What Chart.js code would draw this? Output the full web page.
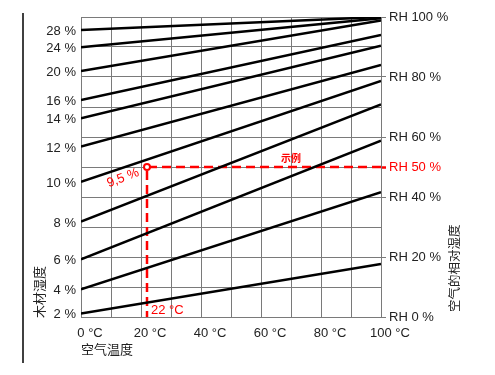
<!DOCTYPE html>
<html>
<head>
<meta charset="utf-8">
<style>
	html, body { margin: 0; padding: 0; background: #fff; }
	#chart-wrap { position: relative; width: 495px; height: 375px; }
</style>
</head>
<body>
<div id="chart-wrap"><canvas id="chart-wood-moisture" width="495" height="375"></canvas></div>
<script src="https://cdn.jsdelivr.net/npm/chart.js@4/dist/chart.umd.min.js"></script>
<script>
// Wood moisture isolines: relative humidity at 0 °C and at 100 °C
const MC_LABELS = ["28 %", "24 %", "20 %", "16 %", "14 %", "12 %", "10 %", "8 %", "6 %", "4 %", "2 %"];
const RH_AT_0C = [95.7, 89.9, 82, 72.3, 66.2, 56.8, 45.1, 31.8, 19.2, 9.2, 1.2];
const RH_AT_100C = [100, 99.6, 98.8, 94, 90.4, 84, 78.7, 70.9, 58.8, 41.6, 17.7];
const TEMP_MIN = 0;
const TEMP_MAX = 100;
const TEMP_LABEL_TICKS = [0, 20, 40, 60, 80, 100];
const RH_LABEL_TICKS = [0, 20, 40, 50, 60, 80, 100];

// Example reading
const EXAMPLE_TEMP = 22;
const EXAMPLE_RH = 50;
const EXAMPLE_MC = "9,5 %";

const COLORS = {
	TEXT: "#222",
	GRID: "#7a7a7a",
	LINE: "#000",
	RED: "#ff0000",
};
const FONT_FAMILY = '"Liberation Sans", Arial, "Noto Sans CJK SC", sans-serif';
const CJK_FAMILY = '"Noto Sans CJK SC", "Liberation Sans", sans-serif';

const WRAPPER = document.getElementById("chart-wood-moisture");

// Isoline datasets
const moistureSets = MC_LABELS.map((label, i) => ({
	label: label,
	data: [
		{ x: TEMP_MIN, y: RH_AT_0C[i] },
		{ x: TEMP_MAX, y: RH_AT_100C[i] },
	],
	borderColor: COLORS.LINE,
	borderWidth: 2.5,
	pointRadius: 0,
	tension: 0,
	yAxisID: "y",
}));

const exampleSet = {
	label: "example",
	data: [
		{ x: TEMP_MAX, y: EXAMPLE_RH },
		{ x: EXAMPLE_TEMP, y: EXAMPLE_RH },
		{ x: EXAMPLE_TEMP, y: 0 },
	],
	borderColor: COLORS.RED,
	borderWidth: 2.5,
	borderDash: [9, 5],
	pointRadius: [0, 3, 0],
	pointBorderWidth: 2,
	pointBorderColor: COLORS.RED,
	pointBackgroundColor: "#fff",
	tension: 0,
	yAxisID: "y",
};

// Texts drawn on top: rotated titles, example notes, frame line
const decorations = {
	id: "decorations",
	afterDraw(chart) {
		const { ctx, chartArea, scales } = chart;
		const px = scales.x.getPixelForValue(EXAMPLE_TEMP);
		const py = scales.y.getPixelForValue(EXAMPLE_RH);
		ctx.save();

		// frame line at the left
		ctx.strokeStyle = "#000";
		ctx.lineWidth = 1.5;
		ctx.beginPath();
		ctx.moveTo(23, 13);
		ctx.lineTo(23, 363);
		ctx.stroke();

		// axis titles
		ctx.fillStyle = COLORS.TEXT;
		ctx.font = "13px " + CJK_FAMILY;
		ctx.textAlign = "left";
		ctx.textBaseline = "middle";
		ctx.save();
		ctx.translate(39, chartArea.bottom + 1);
		ctx.rotate(-Math.PI / 2);
		ctx.fillText("木材湿度", 0, 0);
		ctx.restore();
		ctx.save();
		ctx.font = "12.5px " + CJK_FAMILY;
		ctx.translate(454, chartArea.bottom - 5);
		ctx.rotate(-Math.PI / 2);
		ctx.fillText("空气的相对湿度", 0, 0);
		ctx.restore();

		// example notes
		ctx.fillStyle = COLORS.RED;
		ctx.font = "13px " + FONT_FAMILY;
		ctx.save();
		ctx.translate(px - 24, py + 11);
		ctx.rotate(-0.36);
		ctx.textAlign = "center";
		ctx.fillText(EXAMPLE_MC, 0, 0);
		ctx.restore();

		ctx.textAlign = "left";
		ctx.fillText(EXAMPLE_TEMP + " °C", px + 4, scales.y.getPixelForValue(0) - 7);

		ctx.font = "bold 10px " + CJK_FAMILY;
		ctx.textAlign = "center";
		ctx.fillText("示例", scales.x.getPixelForValue(70), py - 9);

		ctx.restore();
	},
};

// Chart config
const CONFIG = {
	type: "line",
	data: {
		datasets: [...moistureSets, exampleSet],
	},
	options: {
		responsive: false,
		devicePixelRatio: 1,
		animation: false,
		layout: {
			padding: { top: 17, left: 0, right: 0, bottom: 0 },
		},
		plugins: {
			legend: { display: false },
			title: { display: false },
			tooltip: { enabled: false },
		},
		scales: {
			x: {
				type: "linear",
				min: TEMP_MIN,
				max: TEMP_MAX,
				afterFit: (s) => { s.height = 58; },
				border: { display: true, color: COLORS.GRID },
				grid: {
					color: COLORS.GRID,
					lineWidth: 1,
					drawTicks: false,
				},
				ticks: {
					stepSize: 10,
					autoSkip: false,
					maxRotation: 0,
					padding: 9,
					labelOffset: 9,
					color: COLORS.TEXT,
					font: { family: FONT_FAMILY, size: 13 },
					callback: (v) => (TEMP_LABEL_TICKS.includes(v) ? v + " °C" : ""),
				},
				title: {
					display: true,
					text: "空气温度",
					align: "start",
					color: COLORS.TEXT,
					font: { family: CJK_FAMILY, size: 13 },
					padding: { top: 0, bottom: 18 },
				},
			},
			yL: {
				type: "linear",
				position: "left",
				min: 0.5,
				max: 100.5,
				afterFit: (s) => { s.width = 81; },
				afterBuildTicks: (s) => { s.ticks = RH_AT_0C.map((v) => ({ value: v })); },
				border: { display: true, color: COLORS.GRID },
				grid: { drawOnChartArea: false, drawTicks: false },
				ticks: {
					autoSkip: false,
					padding: 5,
					color: COLORS.TEXT,
					font: { family: FONT_FAMILY, size: 13 },
					callback: (v, i) => MC_LABELS[i],
				},
			},
			y: {
				type: "linear",
				position: "right",
				min: 0,
				max: 100,
				afterFit: (s) => { s.width = 114; },
				border: { display: true, color: COLORS.GRID },
				grid: {
					color: COLORS.GRID,
					lineWidth: 1,
					tickLength: 5,
					tickColor: (c) => {
						const v = c.tick ? c.tick.value : null;
						if (v === EXAMPLE_RH) return COLORS.RED;
						return RH_LABEL_TICKS.includes(v) ? COLORS.GRID : "rgba(0,0,0,0)";
					},
					tickWidth: (c) => (c.tick && c.tick.value === EXAMPLE_RH ? 2.5 : 1),
				},
				ticks: {
					stepSize: 10,
					autoSkip: false,
					padding: 3,
					font: { family: FONT_FAMILY, size: 13 },
					color: (c) => (c.tick && c.tick.value === EXAMPLE_RH ? COLORS.RED : COLORS.TEXT),
					callback: (v) => (RH_LABEL_TICKS.includes(v) ? "RH " + v + " %" : ""),
				},
			},
		},
	},
	plugins: [decorations],
};

// Init chart
if (WRAPPER) {
	new Chart(WRAPPER, CONFIG);
}
</script>
</body>
</html>
